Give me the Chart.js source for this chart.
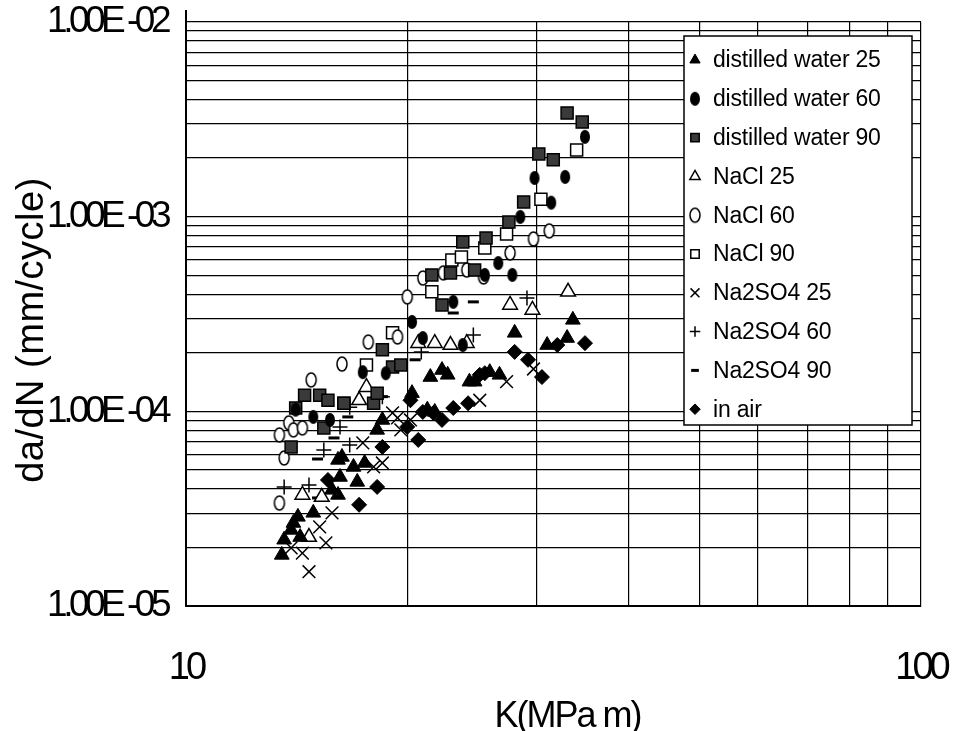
<!DOCTYPE html>
<html>
<head>
<meta charset="utf-8">
<script src="https://cdn.jsdelivr.net/npm/chart.js@4/dist/chart.umd.min.js"></script>
<style>
  html, body { margin: 0; padding: 0; background: #fff; }
  canvas { display: block; }
</style>
</head>
<body>
<canvas id="crackChart" width="954" height="731"></canvas>
<script>
// K (MPa m) and da/dN (mm/cycle)
const dw25K = [13.5, 13.6, 13.9, 14.0, 14.2, 14.3, 14.9, 15.8, 16.1, 16.2, 16.1, 16.3, 16.9, 17.1, 17.5, 18.2, 18.5, 20.3, 21.3, 21.8, 21.5, 22.3, 22.7, 24.3, 24.7, 25.9, 26.7, 28.0, 31.0, 33.0, 33.6];
const dw25Rate = [1.83e-5, 2.19e-5, 2.46e-5, 2.67e-5, 2.87e-5, 2.26e-5, 3.01e-5, 3.95e-5, 3.72e-5, 4.60e-5, 5.63e-5, 5.83e-5, 5.18e-5, 4.34e-5, 5.43e-5, 8.03e-5, 9.03e-5, 1.24e-4, 1.02e-4, 9.93e-5, 1.50e-4, 1.63e-4, 1.54e-4, 1.42e-4, 1.42e-4, 1.59e-4, 1.54e-4, 2.53e-4, 2.19e-4, 2.38e-4, 2.95e-4];

const dw60K = [14.1, 14.9, 15.7, 17.4, 18.7, 20.3, 21.0, 23.1, 23.8, 25.5, 26.6, 27.8, 28.5, 29.8, 31.4, 32.8, 34.9];
const dw60Rate = [1.02e-4, 9.36e-5, 9.03e-5, 1.59e-4, 1.57e-4, 2.88e-4, 2.38e-4, 3.65e-4, 2.19e-4, 5.02e-4, 5.78e-4, 5.02e-4, 9.97e-4, 1.58e-3, 1.18e-3, 1.60e-3, 2.57e-3];

const dw90K = [13.9, 14.1, 14.5, 15.2, 15.6, 16.4, 15.4, 18.0, 18.2, 18.5, 19.1, 19.6, 21.6, 22.3, 22.9, 23.8, 24.7, 25.6, 27.5, 28.8, 30.2, 31.6, 33.0, 34.6];
const dw90Rate = [6.56e-5, 1.04e-4, 1.21e-4, 1.21e-4, 1.14e-4, 1.10e-4, 8.22e-5, 1.10e-4, 1.24e-4, 2.07e-4, 1.69e-4, 1.73e-4, 5.02e-4, 3.52e-4, 5.14e-4, 7.42e-4, 5.32e-4, 7.77e-4, 9.39e-4, 1.19e-3, 2.10e-3, 1.96e-3, 3.41e-3, 3.06e-3];

const nacl25K = [14.4, 14.7, 15.3, 17.2, 17.6, 20.7, 21.8, 22.9, 24.1, 27.6, 29.6, 33.1];
const nacl25Rate = [3.72e-5, 2.26e-5, 3.63e-5, 1.14e-4, 1.33e-4, 2.24e-4, 2.24e-4, 2.19e-4, 2.24e-4, 3.52e-4, 3.32e-4, 4.11e-4];

const nacl60K = [13.4, 13.6, 13.8, 14.0, 14.4, 13.4, 14.8, 16.3, 17.7, 19.4, 20.0, 21.0, 22.4, 24.1, 25.4, 27.6, 29.7, 31.2];
const nacl60Rate = [7.56e-5, 5.76e-5, 8.72e-5, 8.03e-5, 8.22e-5, 3.38e-5, 1.45e-4, 1.75e-4, 2.27e-4, 2.41e-4, 3.87e-4, 4.84e-4, 5.14e-4, 5.32e-4, 4.90e-4, 6.51e-4, 7.68e-4, 8.45e-4];

const nacl90K = [16.4, 17.6, 19.1, 21.6, 23.0, 23.7, 25.5, 27.3, 30.4, 34.0];
const nacl90Rate = [1.10e-4, 1.73e-4, 2.53e-4, 4.11e-4, 5.99e-4, 6.21e-4, 6.91e-4, 8.15e-4, 1.23e-3, 2.20e-3];

const na25K = [13.9, 14.4, 14.7, 15.2, 15.5, 15.8, 17.4, 18.0, 18.5, 19.1, 19.4, 20.2, 19.6, 25.1, 27.3, 29.7];
const na25Rate = [1.99e-5, 1.87e-5, 1.50e-5, 2.55e-5, 2.11e-5, 3.01e-5, 6.88e-5, 5.18e-5, 5.43e-5, 9.81e-5, 9.25e-5, 9.03e-5, 8.03e-5, 1.14e-4, 1.42e-4, 1.65e-4];

const na60K = [13.6, 14.7, 15.4, 16.2, 16.7, 16.7, 18.5, 20.9, 24.6, 29.1];
const na60Rate = [4.09e-5, 4.19e-5, 6.33e-5, 8.32e-5, 6.72e-5, 1.05e-4, 1.19e-4, 2.02e-4, 2.47e-4, 3.82e-4];

const na90K = [15.1, 15.9, 15.1, 16.6, 18.5, 20.5, 23.1, 24.6];
const na90Rate = [5.69e-5, 7.30e-5, 3.59e-5, 9.36e-5, 1.19e-4, 1.84e-4, 3.20e-4, 3.65e-4];

const airK = [15.6, 17.2, 18.2, 18.5, 20.0, 20.2, 20.7, 21.0, 21.7, 22.3, 23.1, 24.2, 25.1, 25.5, 28.0, 29.2, 30.5, 32.0, 34.9];
const airRate = [4.44e-5, 3.31e-5, 4.09e-5, 6.56e-5, 8.32e-5, 1.14e-4, 7.13e-5, 9.93e-5, 9.81e-5, 9.03e-5, 1.04e-4, 1.10e-4, 1.54e-4, 1.57e-4, 2.02e-4, 1.84e-4, 1.50e-4, 2.19e-4, 2.24e-4];

// axes
const kGrid = [10, 20, 30, 40, 50, 60, 70, 80, 90, 100];
const kLabels = ['10', '', '', '', '', '', '', '', '', '100'];
const rateDecades = [1e-5, 1e-4, 1e-3, 1e-2];
const rateLabels = ['1.00E -05', '1.00E -04', '1.00E -03', '1.00E -02'];

const FONT = 'Liberation Sans, Arial, sans-serif';

const rateGrid = [];
for (let i = 0; i < rateDecades.length - 1; i++) {
    for (let m = 1; m < 10; m++) rateGrid.push(Number((m * rateDecades[i]).toPrecision(3)));
}
rateGrid.push(rateDecades[rateDecades.length - 1]);

function pts(xs, ys) {
    return xs.map((x, i) => ({ x: x, y: ys[i] }));
}

function ellipseMarker(filled) {
    const c = document.createElement('canvas');
    c.width = 14;
    c.height = 18;
    const g = c.getContext('2d');
    g.beginPath();
    g.ellipse(7, 9, 5, 7, 0, 0, Math.PI * 2);
    g.fillStyle = filled ? '#000' : '#fff';
    g.fill();
    if (!filled) {
        g.lineWidth = 1.5;
        g.strokeStyle = '#000';
        g.stroke();
    }
    return c;
}

function series(label, xs, ys, style, radius, fill, width) {
    return {
        label: label,
        data: pts(xs, ys),
        pointStyle: style,
        pointRadius: radius,
        pointBackgroundColor: fill,
        pointBorderColor: '#000',
        pointBorderWidth: width
    };
}

const datasets = [
    series('distilled water 25', dw25K, dw25Rate, 'triangle', 8.5, '#000', 1),
    series('distilled water 60', dw60K, dw60Rate, ellipseMarker(true), 6, '#000', 1),
    series('distilled water 90', dw90K, dw90Rate, 'rect', 8.5, '#3a3a3a', 1.5),
    series('NaCl 25', nacl25K, nacl25Rate, 'triangle', 8.5, '#fff', 1.5),
    series('NaCl 60', nacl60K, nacl60Rate, ellipseMarker(false), 6, '#fff', 1.5),
    series('NaCl 90', nacl90K, nacl90Rate, 'rect', 8.5, '#fff', 1.5),
    series('Na2SO4 25', na25K, na25Rate, 'crossRot', 9, '#000', 1.5),
    series('Na2SO4 60', na60K, na60Rate, 'cross', 7.5, '#000', 1.5),
    series('Na2SO4 90', na90K, na90Rate, 'line', 5.5, '#000', 3),
    series('in air', airK, airRate, 'rectRot', 7.5, '#000', 1)
];

function noPadding(s) {
    s.paddingLeft = 0;
    s.paddingRight = 0;
    s.paddingTop = 0;
    s.paddingBottom = 0;
}

// letter spacing and small offsets on the axis text, as in the original
const textSpacing = {
    id: 'textSpacing',
    beforeDraw(chart) {
        const wrap = (scale, name, spacing, dx, dy) => {
            const orig = scale[name];
            if (orig._spaced) return;
            const fn = function (...args) {
                this.ctx.save();
                this.ctx.letterSpacing = spacing;
                this.ctx.translate(dx, dy);
                orig.apply(this, args);
                this.ctx.restore();
            };
            fn._spaced = true;
            scale[name] = fn;
        };
        wrap(chart.scales.y, 'drawLabels', '-4.5px', 0, 0);
        wrap(chart.scales.y, 'drawTitle', '0.5px', 0, 16);
        wrap(chart.scales.x, 'drawLabels', '-4px', 0, 2);
        wrap(chart.scales.x, 'drawTitle', '-2px', 14, 0);
    }
};

const boxLegend = {
    id: 'boxLegend',
    afterDraw(chart) {
        const ctx = chart.ctx;
        const area = chart.chartArea;
        const x0 = area.right - 237, y0 = area.top + 14;
        ctx.save();
        // axis line runs a little above the top gridline
        ctx.strokeStyle = '#000';
        ctx.lineWidth = 2;
        ctx.beginPath();
        ctx.moveTo(area.left, area.top - 12);
        ctx.lineTo(area.left, area.top);
        ctx.stroke();

        ctx.fillStyle = '#fff';
        ctx.lineWidth = 1.5;
        ctx.fillRect(x0, y0, 228, 389);
        ctx.strokeRect(x0, y0, 228, 389);
        ctx.font = '23px ' + FONT;
        ctx.textBaseline = 'middle';
        ctx.letterSpacing = '-0.2px';
        chart.data.datasets.forEach((ds, i) => {
            const y = y0 + 24 + i * 38.8;
            ctx.fillStyle = ds.pointBackgroundColor;
            ctx.strokeStyle = '#000';
            ctx.lineWidth = ds.pointBorderWidth;
            Chart.helpers.drawPoint(ctx, {
                pointStyle: ds.pointStyle,
                radius: ds.pointRadius * 0.7,
                borderWidth: ds.pointBorderWidth,
                rotation: 0
            }, x0 + 11, y);
            ctx.fillStyle = '#000';
            ctx.fillText(ds.label, x0 + 29, y + 1);
        });
        ctx.restore();
    }
};

new Chart(document.getElementById('crackChart'), {
    type: 'scatter',
    data: { datasets: datasets },
    options: {
        responsive: false,
        animation: false,
        events: [],
        layout: { padding: { top: 22, right: 33, bottom: 0, left: 0 } },
        plugins: { legend: { display: false }, tooltip: { enabled: false } },
        scales: {
            x: {
                type: 'logarithmic',
                min: 10,
                max: 100,
                afterFit: s => { s.height = 125; noPadding(s); },
                afterBuildTicks: s => { s.ticks = kGrid.map(v => ({ value: v })); },
                grid: { color: '#000', lineWidth: 1.2, drawTicks: false },
                border: { color: '#000', width: 2 },
                ticks: {
                    autoSkip: false,
                    maxRotation: 0,
                    padding: 42,
                    color: '#000',
                    font: { family: FONT, size: 38, lineHeight: 1 },
                    callback: v => kLabels[kGrid.indexOf(v)] || ''
                },
                title: {
                    display: true,
                    text: 'K(MPa m)',
                    color: '#000',
                    font: { family: FONT, size: 36, lineHeight: 0.8 },
                    padding: { top: 0, bottom: 0 }
                }
            },
            y: {
                type: 'logarithmic',
                min: 1e-5,
                max: 1e-2,
                afterFit: s => { s.width = 186; noPadding(s); },
                afterBuildTicks: s => { s.ticks = rateGrid.map(v => ({ value: v })); },
                grid: { color: '#000', lineWidth: 1.2, drawTicks: false },
                border: { color: '#000', width: 2 },
                ticks: {
                    autoSkip: false,
                    padding: 19,
                    color: '#000',
                    font: { family: FONT, size: 37, lineHeight: 1 },
                    callback: v => {
                        const i = rateDecades.findIndex(d => Math.abs(v / d - 1) < 1e-6);
                        return i < 0 ? '' : rateLabels[i];
                    }
                },
                title: {
                    display: true,
                    text: 'da/dN (mm/cycle)',
                    color: '#000',
                    font: { family: FONT, size: 38 },
                    padding: { top: 10, bottom: 0 }
                }
            }
        }
    },
    plugins: [textSpacing, boxLegend]
});
</script>
</body>
</html>
